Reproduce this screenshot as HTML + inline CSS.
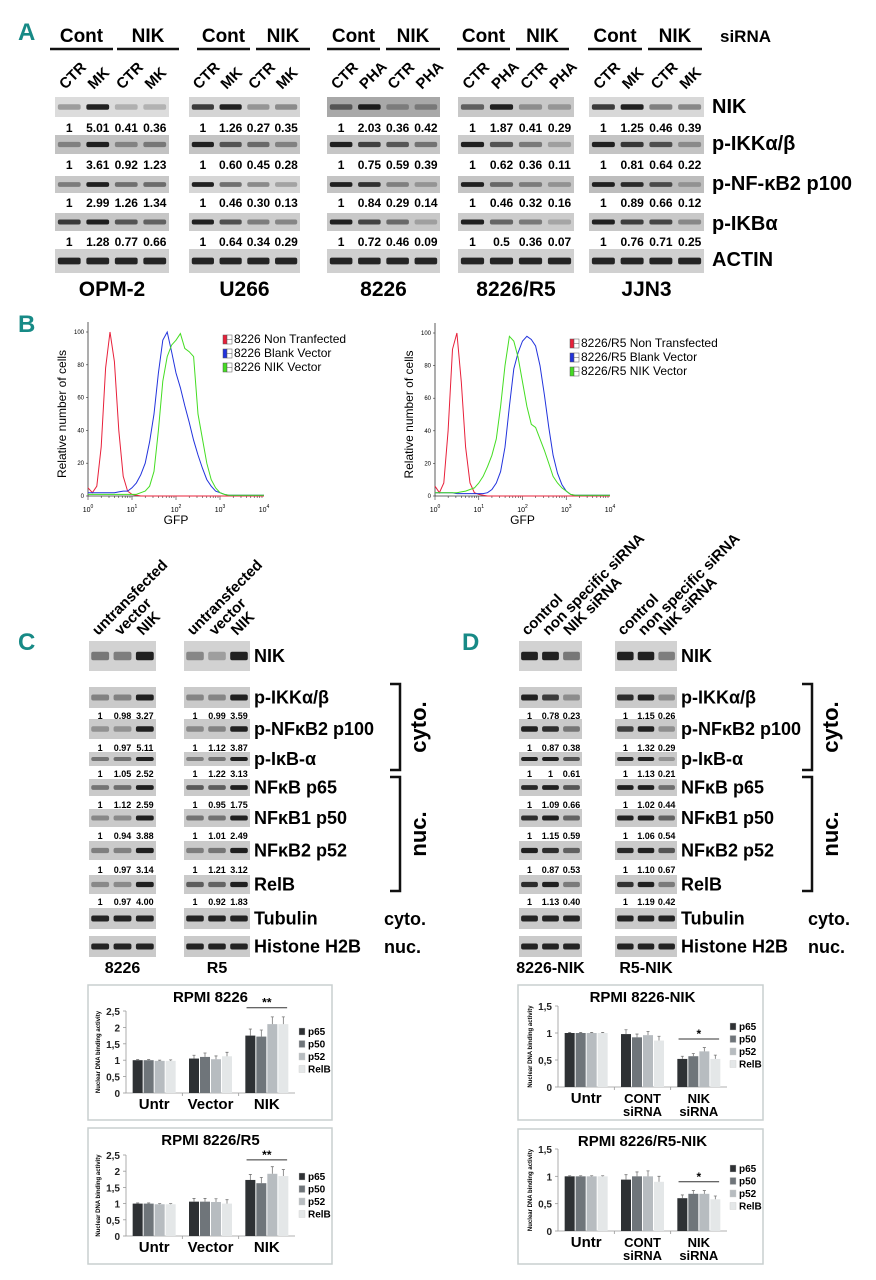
<!DOCTYPE html>
<html><head><meta charset="utf-8">
<style>
html,body{margin:0;padding:0;background:#fff;}
svg{display:block;font-family:"Liberation Sans",Arial,sans-serif;}
.b{font-weight:bold;}
</style></head>
<body>
<svg id="fig" width="876" height="1280" viewBox="0 0 876 1280" xmlns="http://www.w3.org/2000/svg"></svg>
<script>
// ---------- DATA ----------
const aGroups = ['OPM-2','U266','8226','8226/R5','JJN3'];
const aLanes = [['CTR','MK','CTR','MK'],['CTR','MK','CTR','MK'],['CTR','PHA','CTR','PHA'],['CTR','PHA','CTR','PHA'],['CTR','MK','CTR','MK']];
const aRowLabels = ['NIK','p-IKKα/β','p-NF-κB2 p100','p-IKBα','ACTIN'];
const aNIK  = [[1,5.01,0.41,0.36],[1,1.26,0.27,0.35],[1,2.03,0.36,0.42],[1,1.87,0.41,0.29],[1,1.25,0.46,0.39]];
const aIKK  = [[1,3.61,0.92,1.23],[1,0.60,0.45,0.28],[1,0.75,0.59,0.39],[1,0.62,0.36,0.11],[1,0.81,0.64,0.22]];
const aNFK  = [[1,2.99,1.26,1.34],[1,0.46,0.30,0.13],[1,0.84,0.29,0.14],[1,0.46,0.32,0.16],[1,0.89,0.66,0.12]];
const aIKB  = [[1,1.28,0.77,0.66],[1,0.64,0.34,0.29],[1,0.72,0.46,0.09],[1,0.5,0.36,0.07],[1,0.76,0.71,0.25]];
const aLabelStr = [['1','5.01','0.41','0.36'],['1','1.26','0.27','0.35'],['1','2.03','0.36','0.42'],['1','1.87','0.41','0.29'],['1','1.25','0.46','0.39']];

const cRowLabels = ['NIK','p-IKKα/β','p-NFκB2 p100','p-IκB-α','NFκB p65','NFκB1 p50','NFκB2 p52','RelB','Tubulin','Histone H2B'];
const c8226 = [[0.4,0.35,1],[1,0.98,3.27],[1,0.97,5.11],[1,1.05,2.52],[1,1.12,2.59],[1,0.94,3.88],[1,0.97,3.14],[1,0.97,4.00],[1,1,1],[1,1,1]];
const cR5   = [[0.3,0.15,1],[1,0.99,3.59],[1,1.12,3.87],[1,1.22,3.13],[1,0.95,1.75],[1,1.01,2.49],[1,1.21,3.12],[1,0.92,1.83],[1,1,1],[1,1,1]];
const d8226 = [[1,1,0.4],[1,0.78,0.23],[1,0.87,0.38],[1,1,0.61],[1,1.09,0.66],[1,1.15,0.59],[1,0.87,0.53],[1,1.13,0.40],[1,1,1],[1,1,1]];
const dR5   = [[1,1,0.35],[1,1.15,0.26],[1,1.32,0.29],[1,1.13,0.21],[1,1.02,0.44],[1,1.06,0.54],[1,1.10,0.67],[1,1.19,0.42],[1,1,1],[1,1,1]];

const hx = [0,0.1,0.2,0.3,0.4,0.5,0.6,0.7,0.8,0.9,1,1.1,1.2,1.3,1.4,1.5,1.6,1.7,1.8,1.9,2,2.1,2.2,2.3,2.4,2.5,2.6,2.7,2.8,2.9,3,3.1,3.2,3.3,3.4,3.5,3.6,3.7,3.8,3.9,4];
const hLRed   = [5,2,6,30,78,100,82,40,12,3,1,0.5,0,0,0,0,0,0,0,0,0,0,0,0,0,0,0,0,0,0,0,0,0,0,0,0,0,0,0,0,0];
const hLBlue  = [2,2,2,2,2,2,2,2.5,3,3,5,8,13,20,33,50,75,95,100,88,75,66,55,45,34,25,17,10,6,3,2,1,0.5,0.5,0.5,0.5,0.5,0.5,0.5,0.5,0.5];
const hLGreen = [1,1,1,1,1,1,1,1,1,1,1,1,2,3,6,15,40,70,85,92,95,99,90,88,85,50,35,20,10,5,2,1,0.5,0.5,0.5,0.5,0.5,0.5,0.5,0.5,0.5];
const hRRed   = [6,2,8,40,90,100,70,30,8,2,1,0.5,0,0,0,0,0,0,0,0,0,0,0,0,0,0,0,0,0,0,0,0,0,0,0,0,0,0,0,0,0];
const hRBlue  = [2,2,2,2,2,1.5,1.5,1.5,1.5,1.5,1.5,1.5,2,4,8,15,30,55,78,88,95,98,96,92,80,62,42,25,14,7,3,1,0.5,0.5,0.5,0.5,0.5,0.5,0.5,0.5,0.5];
const hRGreen = [2,2,2,2,2,2,2.5,3,4,5,8,12,18,25,35,55,80,98,95,85,70,55,44,42,35,28,20,12,8,5,3,1,0.5,0.5,0.5,0.5,0.5,0.5,0.5,0.5,0.5];

const barSeries = ['p65','p50','p52','RelB'];
const barColors = ['#2e3134','#6f757a','#b7bcc0','#e4e7e8'];
const cCats = ['Untr','Vector','NIK'];
const dCats = ['Untr','CONT|siRNA','NIK|siRNA'];
const c1Vals = [[1,1,0.98,0.98],[1.05,1.1,1.03,1.12],[1.75,1.72,2.1,2.1]];
const c1Err  = [[0.02,0.02,0.02,0.03],[0.1,0.12,0.1,0.12],[0.2,0.2,0.22,0.22]];
const c2Vals = [[1,1,0.98,0.98],[1.06,1.06,1.05,1.0],[1.73,1.63,1.92,1.85]];
const c2Err  = [[0.02,0.02,0.02,0.02],[0.1,0.1,0.1,0.12],[0.17,0.18,0.22,0.2]];
const d1Vals = [[1,1,1,1],[0.98,0.92,0.96,0.86],[0.52,0.57,0.66,0.52]];
const d1Err  = [[0.01,0.01,0.01,0.01],[0.08,0.06,0.07,0.08],[0.05,0.05,0.07,0.07]];
const d2Vals = [[1,1,1,1],[0.94,1.0,1.0,0.9],[0.6,0.68,0.68,0.58]];
const d2Err  = [[0.01,0.01,0.01,0.01],[0.09,0.08,0.1,0.1],[0.06,0.06,0.06,0.06]];
const cTicks = [0,0.5,1,1.5,2,2.5];
const cTickLbl = ['0','0,5','1','1,5','2','2,5'];
const dTicks = [0,0.5,1,1.5];
const dTickLbl = ['0','0,5','1','1,5'];

// ---------- HELPERS ----------
const NS='http://www.w3.org/2000/svg';
const svg=document.getElementById('fig');
function mk(tag,attrs,parent,txt){const e=document.createElementNS(NS,tag);for(const k in attrs)e.setAttribute(k,attrs[k]);if(txt!==undefined)e.textContent=txt;(parent||svg).appendChild(e);return e;}
function grp(parent){return mk('g',{},parent);}
const TEAL='#178a86';

// panel letters
[['A',18,40],['B',18,332],['C',18,650],['D',462,650]].forEach(p=>{
  const t=mk('text',{x:p[1],y:p[2],fill:TEAL,'font-size':24,'font-weight':'bold','font-family':'"Liberation Sans Narrow","Liberation Sans",sans-serif'},svg,p[0]);
  
  
});

// blot drawing
function drawBlot(parent,x0,x1,y0,y1,vals,bg,kind){
  const r=mk('rect',{x:x0,y:y0,width:x1-x0,height:y1-y0,fill:bg},parent);
  
  
  const n=vals.length, w=(x1-x0)/n, mx=Math.max(...vals);
  for(let i=0;i<n;i++){
    const a=kind==='load'?0.9:Math.min(0.92,0.15+0.8*vals[i]/mx);
    const b=mk('rect',{x:x0+i*w+w*0.1,y:(y0+y1)/2-(y1-y0)*0.14,width:w*0.8,height:(y1-y0)*0.28,rx:2,fill:'#111','fill-opacity':a},parent);
    
    
  }
}

// ---------- PANEL A ----------
const gA=grp();
const aX=[[55,169],[189,300],[327,440],[458,574],[589,704]];
const aCont=[[50,113,117,179],[197,250,256,310],[327,380,386,440],[457,510,516,569],[588,642,648,702]];
const aRowY=[[97,117],[135,154],[176,193],[213,231],[249,273]];
const aNumY=[128,165,203,242];
const aData=[aNIK,aIKK,aNFK,aIKB];
const aBg=[['#dcdcdc','#d4d4d4','#a8a8a8','#c8c8c8','#d8d8d8'],['#c2c2c2','#c4c4c4','#c6c6c6','#cccccc','#c4c4c4'],['#c8c8c8','#d6d6d6','#c4c4c4','#c4c4c4','#bdbdbd'],['#c6c6c6','#cdcdcd','#c8c8c8','#cccccc','#c8c8c8']];
aGroups.forEach((name,g)=>{
  const G=grp(gA);
  const c=aCont[g];
  let t=mk('text',{x:(c[0]+c[1])/2,y:42,'text-anchor':'middle','font-size':19,'font-weight':'bold'},G,'Cont');
  
  t=mk('text',{x:(c[2]+c[3])/2,y:42,'text-anchor':'middle','font-size':19,'font-weight':'bold'},G,'NIK');
  
  let l=mk('line',{x1:c[0],x2:c[1],y1:49,y2:49,stroke:'#111','stroke-width':2.5},G);
  
  l=mk('line',{x1:c[2],x2:c[3],y1:49,y2:49,stroke:'#111','stroke-width':2.5},G);
  
  const [x0,x1]=aX[g], w=(x1-x0)/4;
  aLanes[g].forEach((ln,i)=>{
    const cx=x0+w*i+w/2-4;
    const tt=mk('text',{x:cx,y:90,transform:`rotate(-45 ${cx} 90)`,'font-size':15,'font-weight':'bold'},G,ln);
    
  });
  for(let r=0;r<4;r++){
    drawBlot(G,x0,x1,aRowY[r][0],aRowY[r][1],aData[r][g],aBg[r][g],'sig');
    aData[r][g].forEach((v,i)=>{
      const s=(r===0?aLabelStr[g][i]:(v===1?'1':v.toFixed(2).replace(/^(\d\.\d)0$/, v===0.5?'$1':'$10')));
      const tn=mk('text',{x:x0+w*i+w/2,y:aNumY[r]+4,'text-anchor':'middle','font-size':12,'font-weight':'bold'},G,s);
      
    });
  }
  drawBlot(G,x0,x1,aRowY[4][0],aRowY[4][1],[1,1,1,1],'#d0d0d0','load');
  const cl=mk('text',{x:(x0+x1)/2,y:296,'text-anchor':'middle','font-size':21,'font-weight':'bold'},G,name);
  
});
let sir=mk('text',{x:720,y:42,'font-size':17,'font-weight':'bold'},gA,'siRNA');

const aLabY=[113,150,190,230,266];
aRowLabels.forEach((s,i)=>{
  const t=mk('text',{x:712,y:aLabY[i],'font-size':20,'font-weight':'bold'},gA,s);
  
});

// ---------- PANEL B ----------
function histo(x0,x1,y0,y1,series,colors,legend,lx,ly,nm){
  const G=grp();
  const X=v=>x0+(x1-x0)*v/4, Y=v=>y1-(y1-y0)*v/100;
  let ax=mk('path',{d:`M${x0} ${y0-10}V${y1}H${x1}`,stroke:'#333',fill:'none','stroke-width':0.8},G);
  
  [0,20,40,60,80,100].forEach(v=>{
    let t=mk('text',{x:x0-4,y:Y(v)+2,'text-anchor':'end','font-size':6},G,String(v));
    
    const tk=mk('line',{x1:x0-2,x2:x0,y1:Y(v),y2:Y(v),stroke:'#333','stroke-width':0.6},G);
    
  });
  for(let d=0;d<=4;d++){
    const t=mk('text',{x:X(d),y:y1+16,'text-anchor':'middle','font-size':7},G);
    
    mk('tspan',{},t,'10');mk('tspan',{dy:-4,'font-size':5},t,String(d));
    for(let m=1;m<10&&d<4;m++){const xx=X(d+Math.log10(m));
      const tk=mk('line',{x1:xx,x2:xx,y1:y1,y2:y1+(m===1?4:2),stroke:'#333','stroke-width':0.6},G);
      }
  }
  let gl=mk('text',{x:(x0+x1)/2,y:y1+28,'text-anchor':'middle','font-size':12},G,'GFP');
  
  let yl=mk('text',{x:x0-22,y:(y0+y1)/2,'text-anchor':'middle','font-size':12,transform:`rotate(-90 ${x0-22} ${(y0+y1)/2})`},G,'Relative number of cells');
  
  series.forEach((s,k)=>{
    const d=s.map((v,i)=>(i?'L':'M')+X(hx[i]).toFixed(1)+' '+Y(v).toFixed(1)).join('');
    const p=mk('path',{d,stroke:colors[k],fill:'none','stroke-width':1},G);
    
    const ly2=ly+k*14;
    const sw=mk('rect',{x:lx,y:ly2-8,width:4,height:9,fill:colors[k],stroke:'#555','stroke-width':0.5},G);
    
    mk('rect',{x:lx+4,y:ly2-8,width:5,height:9,fill:'#fff',stroke:'#555','stroke-width':0.5},G);
    mk('line',{x1:lx+4,x2:lx+9,y1:ly2-3.5,y2:ly2-3.5,stroke:'#555','stroke-width':0.5},G);
    const t=mk('text',{x:lx+11,y:ly2,'font-size':12,'font-family':'"Liberation Sans Narrow","Liberation Sans",sans-serif'},G,legend[k]);
    
  });
}
histo(88,264,332,496,[hLRed,hLBlue,hLGreen],['#e8203a','#2233dd','#44dd22'],['8226 Non Tranfected','8226 Blank Vector','8226 NIK Vector'],223,343,'histogram-8226');
histo(435,610,333,496,[hRRed,hRBlue,hRGreen],['#e8203a','#2233dd','#44dd22'],['8226/R5 Non Transfected','8226/R5 Blank Vector','8226/R5 NIK Vector'],570,347,'histogram-r5');

// ---------- PANELS C & D ----------
const cdRowY=[[641,671],[687,708],[719,739],[752,766],[779,796],[809,827],[841,860],[875,894],[908,929],[936,957]];
const cdNumY=[0,716,748,774,805,836,870,902];
function blotPanel(nm,blots,labels,lanes,cells,labelX,brX,sideX){
  const G=grp();
  blots.forEach((bl,bi)=>{
    const [x0,x1,data]=bl, w=(x1-x0)/3;
    lanes.forEach((ln,i)=>{
      const cx=x0+w*i+w/2-2, cy=636;
      const t=mk('text',{x:cx,y:cy,transform:`rotate(-45 ${cx} ${cy})`,'font-size':15,'font-weight':'bold'},G,ln);
      
    });
    data.forEach((vals,r)=>{
      drawBlot(G,x0,x1,cdRowY[r][0],cdRowY[r][1],vals,r===0?'#d2d2d2':'#cacaca',r>=8?'load':'sig');
      if(r>=1&&r<=7){vals.forEach((v,i)=>{
        const s=v===1?'1':v.toFixed(2);
        const t=mk('text',{x:x0+w*i+w/2,y:cdNumY[r]+3,'text-anchor':'middle','font-size':9,'font-weight':'bold'},G,s);
        
      });}
    });
    const cl=mk('text',{x:(x0+x1)/2,y:973,'text-anchor':'middle','font-size':16,'font-weight':'bold'},G,cells[bi]);
    
  });
  labels.forEach((s,r)=>{
    const t=mk('text',{x:labelX,y:(cdRowY[r][0]+cdRowY[r][1])/2+6,'font-size':18,'font-weight':'bold'},G,s);
    
  });
  [[684,770,'cyto.',727],[777,891,'nuc.',834]].forEach(b=>{
    const p=mk('path',{d:`M${brX-10} ${b[0]}H${brX}V${b[1]}H${brX-10}`,stroke:'#111','stroke-width':2.5,fill:'none'},G);
    
    const t=mk('text',{x:brX+26,y:b[3],'text-anchor':'middle','font-size':22,'font-weight':'bold',transform:`rotate(-90 ${brX+26} ${b[3]})`},G,b[2]);
    
  });
  [['cyto.',925],['nuc.',953]].forEach(s=>{
    const t=mk('text',{x:sideX,y:s[1],'font-size':18,'font-weight':'bold'},G,s[0]);
    
  });
}
blotPanel('panel-c',[[89,156,c8226],[184,250,cR5]],cRowLabels,['untransfected','vector','NIK'],['8226','R5'],254,400,384);
blotPanel('panel-d',[[519,582,d8226],[615,677,dR5]],cRowLabels,['control','non specific siRNA','NIK siRNA'],['8226-NIK','R5-NIK'],681,812,808);

// ---------- BAR CHARTS ----------
function barChart(nm,box,title,px0,px1,py0,py1,ymax,ticks,tickLbl,cats,vals,errs,starV,stars,lx,ly){
  const G=grp();
  const bx=mk('rect',{x:box[0],y:box[1],width:box[2],height:box[3],fill:'#fff',stroke:'#c9cfcf','stroke-width':1.5},G);
  
  const tt=mk('text',{x:(px0+px1)/2,y:box[1]+17,'text-anchor':'middle','font-size':15,'font-weight':'bold'},G,title);
  
  const Y=v=>py1-(py1-py0)*v/ymax;
  const gs=(px1-px0)/cats.length, XG=i=>px0+gs*(i+0.5);
  const ax=mk('path',{d:`M${px0} ${py0}V${py1}H${px1}`,stroke:'#999','stroke-width':0.8,fill:'none'},G);
  
  ticks.forEach((v,i)=>{
    const t=mk('text',{x:px0-6,y:Y(v)+4,'text-anchor':'end','font-size':10,'font-weight':'bold','fill':'#222'},G,tickLbl[i]);
    
    const tk=mk('line',{x1:px0-3,x2:px0,y1:Y(v),y2:Y(v),stroke:'#999','stroke-width':0.8},G);
    
  });
  for(let i=1;i<cats.length;i++){const tk=mk('line',{x1:px0+gs*i,x2:px0+gs*i,y1:py1,y2:py1+3,stroke:'#999','stroke-width':0.8},G);
    }
  const yl=mk('text',{x:px0-26,y:(py0+py1)/2,'text-anchor':'middle','font-size':6,'font-weight':'bold',transform:`rotate(-90 ${px0-26} ${(py0+py1)/2})`},G,'Nuclear DNA binding activity');
  
  const bw=10;
  cats.forEach((c,i)=>{
    const parts=c.split('|');
    parts.forEach((p,k)=>{
      const t=mk('text',{x:XG(i),y:py1+16+k*13,'text-anchor':'middle','font-size':parts.length>1?13:15,'font-weight':'bold','font-family':'"Liberation Sans Narrow","Liberation Sans",sans-serif'},G,p);
      
    });
    vals[i].forEach((v,s)=>{
      const x=XG(i)-2*bw-1.5+s*(bw+1);
      const r=mk('rect',{x,y:Y(v),width:bw,height:py1-Y(v),fill:barColors[s]},G);
      
      
      const e=mk('path',{d:`M${x+bw/2} ${Y(v)}V${Y(v+errs[i][s])}M${x+bw/2-1.5} ${Y(v+errs[i][s])}H${x+bw/2+1.5}`,stroke:'#777','stroke-width':0.8,fill:'none'},G);
      
    });
  });
  const sl=mk('line',{x1:XG(2)-gs*0.36,x2:XG(2)+gs*0.36,y1:Y(starV),y2:Y(starV),stroke:'#333','stroke-width':1},G);
  
  const st=mk('text',{x:XG(2),y:Y(starV)-1,'text-anchor':'middle','font-size':12,'font-weight':'bold'},G,stars);
  
  barSeries.forEach((s,k)=>{
    const sw=mk('rect',{x:lx,y:ly+k*12.5-7,width:6,height:7,fill:barColors[k],stroke:'#ccc','stroke-width':0.4},G);
    
    const t=mk('text',{x:lx+9,y:ly+k*12.5,'font-size':10,'font-weight':'bold','font-family':'"Liberation Sans Narrow","Liberation Sans",sans-serif'},G,s);
    
  });
}
barChart('chart-rpmi-8226',[88,985,244,135],'RPMI 8226',126,295,1011,1093,2.5,cTicks,cTickLbl,cCats,c1Vals,c1Err,2.6,'**',299,1035);
barChart('chart-rpmi-8226-r5',[88,1128,244,136],'RPMI 8226/R5',126,295,1155,1236,2.5,cTicks,cTickLbl,cCats,c2Vals,c2Err,2.35,'**',299,1180);
barChart('chart-rpmi-8226-nik',[518,985,245,135],'RPMI 8226-NIK',558,727,1006,1087,1.5,dTicks,dTickLbl,dCats,d1Vals,d1Err,0.89,'*',730,1030);
barChart('chart-rpmi-8226-r5-nik',[518,1129,245,135],'RPMI 8226/R5-NIK',558,727,1149,1231,1.5,dTicks,dTickLbl,dCats,d2Vals,d2Err,0.9,'*',730,1172);
</script>
</body></html>
